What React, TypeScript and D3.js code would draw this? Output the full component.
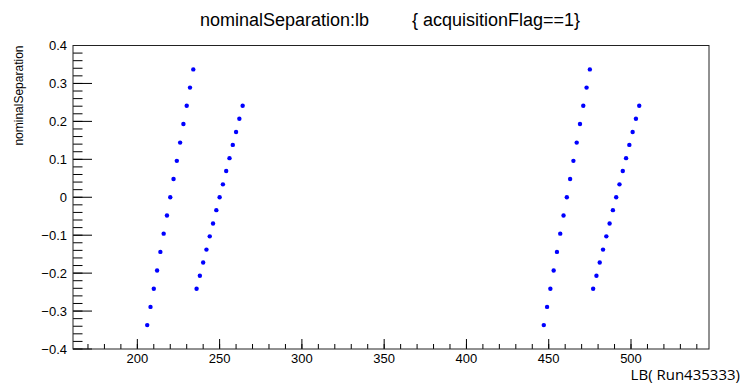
import React from "react";
import * as d3 from "d3";

const lbGroup1 = [206, 208, 210, 212, 214, 216, 218, 220, 222, 224, 226, 228, 230, 232, 234];
const sepGroup1 = [-0.337, -0.289, -0.241, -0.193, -0.144, -0.096, -0.048, 0, 0.048, 0.096, 0.144, 0.193, 0.241, 0.289, 0.337];
const lbGroup2 = [236, 238, 240, 242, 244, 246, 248, 250, 252, 254, 256, 258, 260, 262, 264];
const sepGroup2 = [-0.241, -0.207, -0.172, -0.138, -0.103, -0.069, -0.034, 0, 0.034, 0.069, 0.103, 0.138, 0.172, 0.207, 0.241];
const lbGroup3 = [447, 449, 451, 453, 455, 457, 459, 461, 463, 465, 467, 469, 471, 473, 475];
const sepGroup3 = [-0.337, -0.289, -0.241, -0.193, -0.144, -0.096, -0.048, 0, 0.048, 0.096, 0.144, 0.193, 0.241, 0.289, 0.337];
const lbGroup4 = [477, 479, 481, 483, 485, 487, 489, 491, 493, 495, 497, 499, 501, 503, 505];
const sepGroup4 = [-0.241, -0.207, -0.172, -0.138, -0.103, -0.069, -0.034, 0, 0.034, 0.069, 0.103, 0.138, 0.172, 0.207, 0.241];

const xDomain = [160.9, 547.4];
const yDomain = [-0.4, 0.4];
const xMajorTicks = [200, 250, 300, 350, 400, 450, 500];
const yMajorTicks = [-0.4, -0.3, -0.2, -0.1, 0, 0.1, 0.2, 0.3, 0.4];
const yTickLabels = ["\u22120.4", "\u22120.3", "\u22120.2", "\u22120.1", "0", "0.1", "0.2", "0.3", "0.4"];

const titleLeft = "nominalSeparation:lb";
const titleRight = "{ acquisitionFlag==1}";
const yTitle = "nominalSeparation";
const xTitle = "LB( Run435333)";

export default function App() {
  const W = 744, H = 383;
  const left = 73, right = 709, top = 45.5, bottom = 349;
  const x = d3.scaleLinear().domain(xDomain).range([left, right]);
  const y = d3.scaleLinear().domain(yDomain).range([bottom, top]);

  const xMinor = d3.range(170, 548, 10).filter((v) => v >= xDomain[0] && v <= xDomain[1]);
  const yMinor = d3.range(-40, 41, 2).map((v) => v / 100);

  const points: { lb: number; s: number }[] = [];
  [[lbGroup1, sepGroup1], [lbGroup2, sepGroup2], [lbGroup3, sepGroup3], [lbGroup4, sepGroup4]].forEach(([lbs, ss]) => {
    lbs.forEach((lb, i) => points.push({ lb, s: ss[i] }));
  });

  const font = "'Liberation Sans', Arial, Helvetica, sans-serif";

  return (
    <svg width={W} height={H} style={{ position: "absolute", left: 0, top: 0, background: "#fff" }}>
      <defs>
        <clipPath id="titleClip">
          <rect x={0} y={0} width={372} height={40} />
        </clipPath>
      </defs>
      <rect x={0} y={0} width={W} height={H} fill="#fff" />
      <text x={200} y={26} fontFamily={font} fontSize={18} fill="#000" clipPath="url(#titleClip)">
        {titleLeft}
      </text>
      <text x={412} y={26} fontFamily={font} fontSize={18} fill="#000">
        {titleRight}
      </text>

      {yMinor.map((v, i) => (
        <line key={"ym" + i} x1={left} x2={left + 9.5} y1={y(v)} y2={y(v)} stroke="#000" strokeWidth={1} />
      ))}
      {yMajorTicks.map((v, i) => (
        <line key={"yM" + i} x1={left} x2={left + 19} y1={y(v)} y2={y(v)} stroke="#000" strokeWidth={1} />
      ))}
      {yMajorTicks.map((v, i) => (
        <text key={"yl" + i} x={67} y={y(v)} dy="0.35em" textAnchor="end" fontFamily={font} fontSize={13} fill="#000">
          {yTickLabels[i]}
        </text>
      ))}

      {xMinor.map((v, i) => (
        <line key={"xm" + i} x1={x(v)} x2={x(v)} y1={bottom} y2={bottom - 5} stroke="#000" strokeWidth={1} />
      ))}
      {xMajorTicks.map((v, i) => (
        <line key={"xM" + i} x1={x(v)} x2={x(v)} y1={bottom} y2={bottom - 10} stroke="#000" strokeWidth={1} />
      ))}
      {xMajorTicks.map((v, i) => (
        <text key={"xl" + i} x={x(v)} y={363} textAnchor="middle" fontFamily={font} fontSize={13} fill="#000">
          {String(v)}
        </text>
      ))}

      <rect x={left} y={top} width={right - left} height={bottom - top} fill="none" stroke="#222" strokeWidth={1} />

      {points.map((p, i) => (
        <circle key={"p" + i} cx={x(p.lb)} cy={y(p.s)} r={2.2} fill="#0000ff" />
      ))}

      <text
        transform={`translate(${23},${top}) rotate(-90)`}
        textAnchor="end"
        fontFamily={font}
        fontSize={12}
        fill="#000"
      >
        {yTitle}
      </text>
      <text x={740} y={380} textAnchor="end" fontFamily="'Open Sans', sans-serif" fontSize={15} fill="#000">
        {xTitle}
      </text>
    </svg>
  );
}
